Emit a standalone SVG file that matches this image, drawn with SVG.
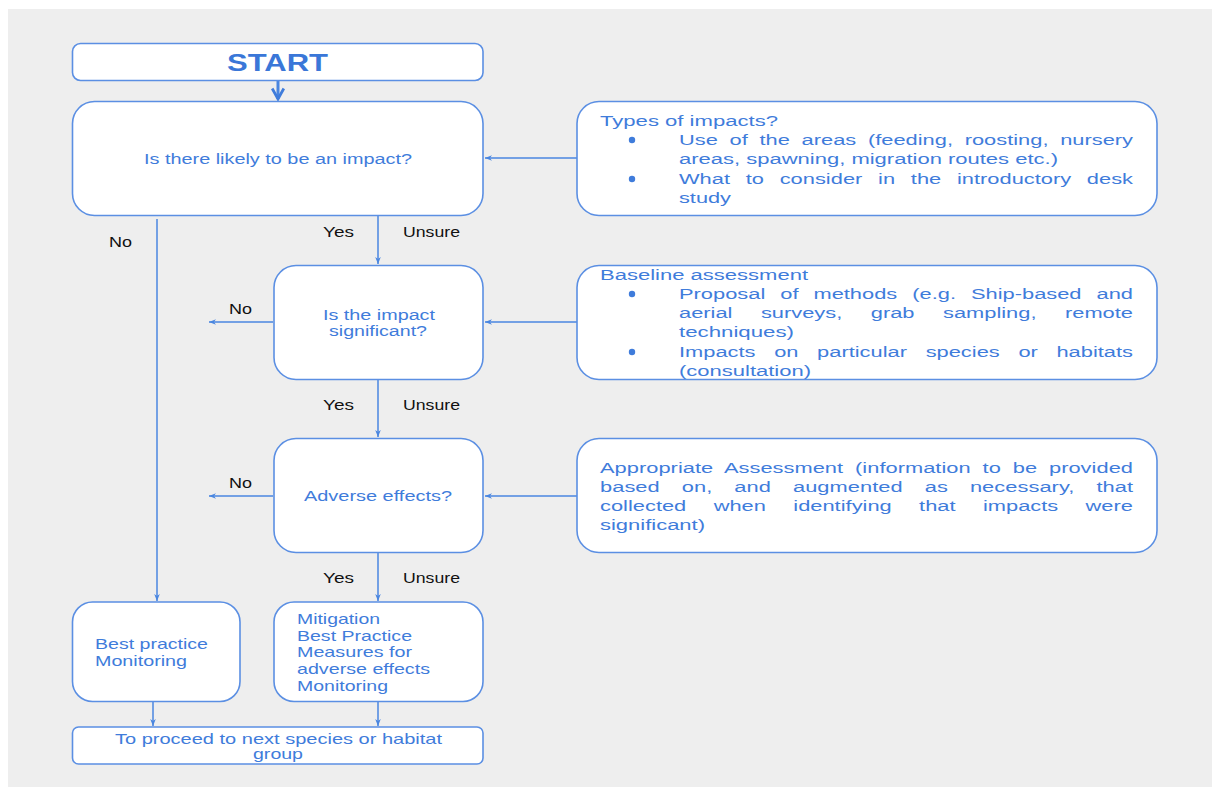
<svg xmlns="http://www.w3.org/2000/svg" width="1212" height="787" viewBox="0 0 1212 787">
<style>
.box{fill:#ffffff;stroke:#5b8fe3;stroke-width:1.6}
.con{stroke:#4a86e0;stroke-width:1.5;fill:none}
.t{font-family:"Liberation Sans",Arial,sans-serif;fill:#3f7cdb}
.lbl{font-family:"Liberation Sans",Arial,sans-serif;fill:#111111;font-size:15px}
.r{font-size:15.5px}
</style>
<defs>
<marker id="ah" viewBox="0 0 10 10" refX="10" refY="5" markerWidth="9" markerHeight="7" markerUnits="userSpaceOnUse" orient="auto">
<path d="M0,1 L10,5 L0,9 L3,5 Z" fill="#4a86e0"/>
</marker>
<marker id="ahb" viewBox="0 0 12 12" refX="10" refY="6" markerWidth="14" markerHeight="14" markerUnits="userSpaceOnUse" orient="auto">
<path d="M1,1 L10,6 L1,11" fill="none" stroke="#3f7cdb" stroke-width="2.4"/>
</marker>
</defs>
<rect x="8" y="9" width="1204" height="778" fill="#eeeeee"/>

<g id="connectors">
<line class="con" x1="278" y1="80" x2="278" y2="99" style="stroke-width:3" marker-end="url(#ahb)"/>
<line class="con" x1="577" y1="158" x2="485" y2="158" marker-end="url(#ah)"/>
<line class="con" x1="378" y1="215" x2="378" y2="264" marker-end="url(#ah)"/>
<line class="con" x1="157" y1="219" x2="157" y2="601" marker-end="url(#ah)"/>
<line class="con" x1="273" y1="322" x2="209" y2="322" marker-end="url(#ah)"/>
<line class="con" x1="577" y1="322" x2="485" y2="322" marker-end="url(#ah)"/>
<line class="con" x1="378" y1="379" x2="378" y2="437" marker-end="url(#ah)"/>
<line class="con" x1="273" y1="496" x2="209" y2="496" marker-end="url(#ah)"/>
<line class="con" x1="577" y1="496" x2="485" y2="496" marker-end="url(#ah)"/>
<line class="con" x1="378" y1="552" x2="378" y2="601" marker-end="url(#ah)"/>
<line class="con" x1="153" y1="701" x2="153" y2="726" marker-end="url(#ah)"/>
<line class="con" x1="378" y1="701" x2="378" y2="726" marker-end="url(#ah)"/>
<text class="lbl" x="109" y="247" textLength="23" lengthAdjust="spacingAndGlyphs">No</text>
<text class="lbl" x="323" y="237" textLength="31" lengthAdjust="spacingAndGlyphs">Yes</text>
<text class="lbl" x="403" y="237" textLength="57" lengthAdjust="spacingAndGlyphs">Unsure</text>
<text class="lbl" x="229" y="314" textLength="23" lengthAdjust="spacingAndGlyphs">No</text>
<text class="lbl" x="323" y="410" textLength="31" lengthAdjust="spacingAndGlyphs">Yes</text>
<text class="lbl" x="403" y="410" textLength="57" lengthAdjust="spacingAndGlyphs">Unsure</text>
<text class="lbl" x="229" y="488" textLength="23" lengthAdjust="spacingAndGlyphs">No</text>
<text class="lbl" x="323" y="583" textLength="31" lengthAdjust="spacingAndGlyphs">Yes</text>
<text class="lbl" x="403" y="583" textLength="57" lengthAdjust="spacingAndGlyphs">Unsure</text>
</g>

<g id="start">
<rect class="box" x="72.5" y="43.5" width="410.5" height="37" rx="8"/>
<text class="t" x="227" y="71" font-size="23" font-weight="bold" textLength="101" lengthAdjust="spacingAndGlyphs" style="fill:#3a77d8">START</text>
</g>

<g id="q1">
<rect class="box" x="72.5" y="101.5" width="410.5" height="114" rx="22"/>
<text class="t" x="144" y="164" font-size="14" textLength="268" lengthAdjust="spacingAndGlyphs">Is there likely to be an impact?</text>
</g>

<g id="info1">
<rect class="box" x="577" y="101.5" width="580" height="114" rx="22"/>
<text class="t r" x="600" y="126" textLength="178" lengthAdjust="spacingAndGlyphs">Types of impacts?</text>
<circle cx="632" cy="140" r="3.2" fill="#3f7cdb"/>
<text class="t r" transform="translate(679,145) scale(1.41,1)" x="0" y="0" word-spacing="3.98" textLength="322" lengthAdjust="spacing">Use of the areas (feeding, roosting, nursery</text>
<text class="t r" x="679" y="164" textLength="379" lengthAdjust="spacingAndGlyphs">areas, spawning, migration routes etc.)</text>
<circle cx="632" cy="179" r="3.2" fill="#3f7cdb"/>
<text class="t r" transform="translate(679,184) scale(1.41,1)" x="0" y="0" word-spacing="6.87" textLength="322" lengthAdjust="spacing">What to consider in the introductory desk</text>
<text class="t r" x="679" y="203" textLength="52" lengthAdjust="spacingAndGlyphs">study</text>
</g>

<g id="q2">
<rect class="box" x="274" y="265.5" width="209" height="114" rx="22"/>
<text class="t" x="323" y="320" font-size="14" textLength="112" lengthAdjust="spacingAndGlyphs">Is the impact</text>
<text class="t" x="329" y="336" font-size="14" textLength="98" lengthAdjust="spacingAndGlyphs">significant?</text>
</g>

<g id="info2">
<rect class="box" x="577" y="265.5" width="580" height="114" rx="22"/>
<text class="t r" x="600" y="280" textLength="208" lengthAdjust="spacingAndGlyphs">Baseline assessment</text>
<circle cx="632" cy="294" r="3.2" fill="#3f7cdb"/>
<text class="t r" transform="translate(679,299) scale(1.41,1)" x="0" y="0" word-spacing="6.34" textLength="322" lengthAdjust="spacing">Proposal of methods (e.g. Ship-based and</text>
<text class="t r" transform="translate(679,318) scale(1.41,1)" x="0" y="0" word-spacing="15.9" textLength="322" lengthAdjust="spacing">aerial surveys, grab sampling, remote</text>
<text class="t r" x="679" y="337" textLength="115" lengthAdjust="spacingAndGlyphs">techniques)</text>
<circle cx="632" cy="352" r="3.2" fill="#3f7cdb"/>
<text class="t r" transform="translate(679,357) scale(1.41,1)" x="0" y="0" word-spacing="8.92" textLength="322" lengthAdjust="spacing">Impacts on particular species or habitats</text>
<text class="t r" x="679" y="376" textLength="132" lengthAdjust="spacingAndGlyphs">(consultation)</text>
</g>

<g id="q3">
<rect class="box" x="274" y="438.5" width="209" height="114" rx="22"/>
<text class="t" x="304" y="501" font-size="14" textLength="148" lengthAdjust="spacingAndGlyphs">Adverse effects?</text>
</g>

<g id="info3">
<rect class="box" x="577" y="438.5" width="580" height="114" rx="22"/>
<text class="t r" transform="translate(600,473) scale(1.41,1)" x="0" y="0" word-spacing="4.1" textLength="378" lengthAdjust="spacing">Appropriate Assessment (information to be provided</text>
<text class="t r" transform="translate(600,492) scale(1.41,1)" x="0" y="0" word-spacing="11.3" textLength="378" lengthAdjust="spacing">based on, and augmented as necessary, that</text>
<text class="t r" transform="translate(600,511) scale(1.41,1)" x="0" y="0" word-spacing="15.1" textLength="378" lengthAdjust="spacing">collected when identifying that impacts were</text>
<text class="t r" x="600" y="530" textLength="105" lengthAdjust="spacingAndGlyphs">significant)</text>
</g>

<g id="bestpractice">
<rect class="box" x="72.5" y="602" width="167.5" height="99.5" rx="20"/>
<text class="t" x="95" y="649" font-size="15" textLength="113" lengthAdjust="spacingAndGlyphs">Best practice</text>
<text class="t" x="95" y="666" font-size="15" textLength="92" lengthAdjust="spacingAndGlyphs">Monitoring</text>
</g>

<g id="mitigation">
<rect class="box" x="274" y="602" width="209" height="99.5" rx="20"/>
<text class="t" x="297" y="624" font-size="15" textLength="83" lengthAdjust="spacingAndGlyphs">Mitigation</text>
<text class="t" x="297" y="641" font-size="15" textLength="115" lengthAdjust="spacingAndGlyphs">Best Practice</text>
<text class="t" x="297" y="657" font-size="15" textLength="115" lengthAdjust="spacingAndGlyphs">Measures for</text>
<text class="t" x="297" y="674" font-size="15" textLength="133" lengthAdjust="spacingAndGlyphs">adverse effects</text>
<text class="t" x="297" y="691" font-size="15" textLength="91" lengthAdjust="spacingAndGlyphs">Monitoring</text>
</g>

<g id="proceed">
<rect class="box" x="72.5" y="727" width="410.5" height="37" rx="6"/>
<text class="t" x="115" y="744" font-size="15" textLength="327" lengthAdjust="spacingAndGlyphs">To proceed to next species or habitat</text>
<text class="t" x="253" y="759" font-size="15" textLength="50" lengthAdjust="spacingAndGlyphs">group</text>
</g>
</svg>
